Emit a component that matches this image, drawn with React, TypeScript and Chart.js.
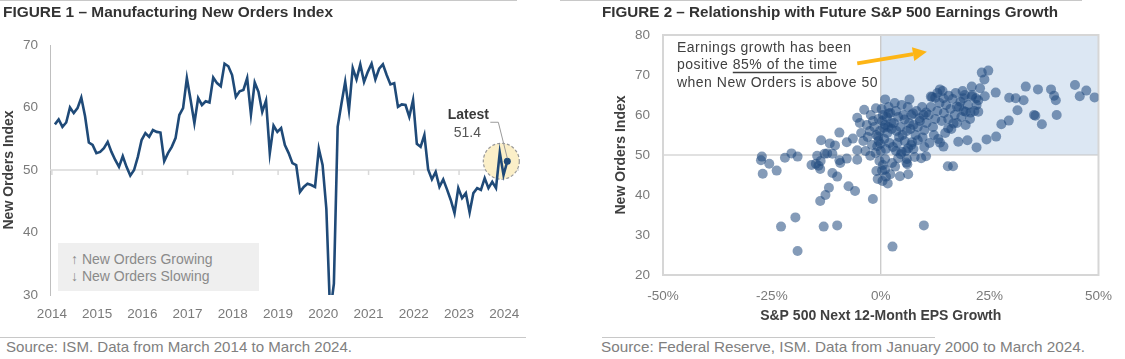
import React, { useEffect, useLayoutEffect, useRef } from 'react';
import { Chart, registerables } from 'chart.js';

Chart.register(...registerables);

const FONT = "'Liberation Sans', Arial, Helvetica, sans-serif";
const NARROW_FONT = "'Liberation Sans Narrow', 'Arial Narrow', 'Liberation Sans', Arial, sans-serif";

// ---------- Figure 1: ISM Manufacturing New Orders, monthly, Mar 2014 – Mar 2024 ----------
const newOrdersIndex: number[] = [
  57.3, 58.1, 56.9, 57.6, 60.0, 59.1, 59.9, 61.6, 58.6, 54.4,
  54.0, 52.7, 52.9, 53.5, 54.5, 52.9, 51.6, 50.5, 52.2, 50.5,
  49.1, 50.0, 52.1, 54.8, 55.9, 55.3, 56.4, 56.1, 56.0, 51.4,
  52.7, 53.7, 55.1, 58.8, 59.9, 64.7, 61.2, 57.5, 61.5, 60.4,
  61.0, 60.8, 64.8, 63.9, 63.4, 67.0, 66.6, 65.2, 61.7, 62.6,
  62.8, 64.7, 58.9, 64.0, 62.5, 59.3, 61.1, 52.7, 57.1, 56.1,
  56.7, 54.0, 52.7, 51.1, 50.8, 46.5, 47.3, 47.8, 47.6, 47.3,
  53.4, 50.8, 43.8, 27.1, 31.8, 56.9, 60.6, 64.1, 59.6, 66.3,
  64.5, 66.9, 64.1, 65.7, 67.0, 64.5, 66.2, 66.9, 65.2, 63.7,
  63.9, 60.1, 60.5, 60.4, 58.5, 61.2, 54.2, 53.7, 55.6, 50.1,
  48.5, 49.7, 47.3, 48.5, 46.9, 45.2, 43.1, 47.1, 45.5, 46.3,
  43.2, 46.3, 47.1, 46.8, 48.7, 47.1, 48.1, 47.1, 52.8, 49.2, 51.4,
];
const yearLabels = ['2014', '2015', '2016', '2017', '2018', '2019', '2020', '2021', '2022', '2023', '2024'];
const latestLabel = 'Latest';
const legendLines = ['↑ New Orders Growing', '↓ New Orders Slowing'];

// ---------- Figure 2: New Orders level vs next-12-month S&P 500 EPS growth (%) ----------
const scatterPoints: [number, number][] = [
  // negative EPS growth
  [-27.5, 48.7], [-27.3, 49.6], [-25.6, 47.8], [-27.1, 45.3], [-23.9, 46.1], [-22.9, 32.1], [-22.0, 49.3],
  [-20.5, 50.4], [-19.6, 34.4], [-19.1, 49.6], [-19.1, 26.0], [-15.9, 47.5], [-14.9, 47.8], [-14.6, 49.8],
  [-14.3, 47.3], [-13.9, 46.5], [-13.7, 53.7], [-13.9, 38.5], [-13.1, 32.1], [-12.7, 40.0], [-12.9, 50.3],
  [-12.3, 50.4], [-11.9, 41.8], [-11.7, 52.9], [-11.1, 45.5], [-11.1, 50.3], [-10.5, 52.4], [-10.0, 44.6],
  [-10.0, 32.4], [-9.5, 55.6], [-9.5, 48.7], [-9.3, 48.0], [-7.8, 53.2], [-7.8, 49.1], [-7.4, 42.2],
  [-6.4, 54.1], [-5.9, 41.0], [-5.4, 59.3], [-5.4, 51.2], [-5.4, 48.8], [-13.8, 48.5],
  // positive EPS growth, sparse
  [23.2, 70.6], [24.7, 71.1], [23.8, 68.9], [20.9, 67.1], [22.8, 66.7], [19.3, 65.0], [19.0, 64.2],
  [20.9, 64.6], [21.9, 64.2], [22.4, 63.7], [23.9, 64.7], [26.4, 65.6], [29.5, 64.3], [31.0, 64.2],
  [32.8, 63.7], [33.3, 67.1], [36.1, 66.4], [39.1, 66.4], [39.8, 64.8], [40.2, 63.7], [44.6, 67.5],
  [45.7, 64.7], [47.2, 66.1], [49.1, 64.4], [31.4, 61.2], [29.4, 58.6], [27.7, 57.7], [26.5, 54.6],
  [24.3, 53.9], [22.0, 51.9], [19.9, 53.7], [17.8, 53.3], [35.2, 60.0], [35.5, 59.8], [37.0, 57.7],
  [40.4, 60.0], [15.4, 47.2], [16.6, 47.2], [9.9, 32.4], [2.7, 27.1], [1.6, 42.9], [-1.8, 39.0],
  [4.4, 44.7], [6.3, 45.2], [6.1, 47.7], [3.3, 47.1], [1.0, 46.4], [0.3, 46.1], [1.2, 44.6],
  [-2.4, 49.8], [-1.1, 61.7], [1.0, 63.9], [6.6, 63.9], [11.5, 64.6], [13.6, 66.4], [12.5, 64.3],
  [14.4, 64.2], [10.4, 60.6], [8.9, 59.2], [10.0, 56.2], [7.4, 60.4], [5.5, 58.9], [17.5, 62.1],
  [18.3, 63.3], [19.5, 60.8], [20.6, 60.6], [22.4, 60.8], [16.7, 57.9], [15.5, 56.7], [14.4, 52.1],
  [13.6, 53.1], [9.6, 54.4], [8.5, 53.7], [7.0, 52.5], [6.3, 51.7], [4.8, 50.8], [10.4, 49.7],
  [9.3, 49.2], [5.9, 48.1], [4.0, 49.2], [1.8, 60.4],
  // dense cluster near 0–9%
  [-1.5, 57.0], [-1.0, 55.0], [-0.5, 53.5], [-0.8, 52.2], [-0.2, 56.0], [0.3, 58.5], [0.5, 60.0],
  [1.0, 57.5], [1.5, 55.5], [0.8, 54.0], [2.0, 53.0], [2.5, 56.5], [3.0, 58.0], [2.2, 60.5],
  [3.5, 61.0], [4.0, 59.5], [4.5, 57.0], [5.0, 55.0], [5.5, 53.5], [6.0, 56.0], [6.5, 58.0],
  [7.0, 60.0], [7.5, 57.5], [6.2, 62.0], [4.8, 62.5], [3.2, 63.0], [1.8, 62.0], [0.2, 61.5],
  [-0.5, 59.0], [-1.8, 58.5], [-2.5, 56.0], [-3.0, 54.5], [-1.2, 50.5], [0.0, 51.0], [1.2, 51.5],
  [2.8, 52.0], [3.8, 53.0], [4.2, 54.5], [5.8, 51.0], [7.2, 53.2], [8.0, 55.0], [8.5, 57.0],
  [9.0, 58.5], [8.2, 61.0], [9.5, 62.0], [2.4, 58.0], [3.6, 56.0], [1.4, 59.5], [5.2, 60.0],
  [6.8, 56.5], [-0.3, 48.5], [1.0, 49.0], [2.6, 48.0], [0.5, 47.5], [-1.0, 46.0], [-0.7, 44.0],
  [0.4, 43.5], [2.2, 45.2], [3.5, 51.0], [4.6, 50.2], [6.0, 49.0], [7.5, 51.5], [7.8, 49.5],
  [-2.0, 52.5], [-3.5, 51.0], [-4.0, 53.5], [-4.5, 55.5], [-3.2, 57.5], [-2.3, 60.0], [-4.8, 58.0],
  [-3.8, 61.3], [-0.6, 54.6], [0.6, 56.8], [1.7, 57.0], [-0.1, 52.8],
  // dense cluster near 10–22%
  [10.5, 58.0], [11.0, 60.0], [11.5, 62.0], [12.0, 57.0], [12.5, 59.0], [13.0, 61.0], [13.5, 63.0],
  [14.0, 58.5], [14.5, 60.5], [15.0, 62.5], [15.5, 59.0], [16.0, 61.5], [16.5, 64.0], [17.0, 60.0],
  [17.5, 58.0], [18.0, 62.0], [18.5, 59.5], [19.0, 61.0], [12.2, 55.0], [13.2, 54.0], [14.8, 55.5],
  [11.2, 53.0], [10.0, 52.0], [9.8, 60.0], [11.8, 64.5], [13.0, 65.5], [14.2, 66.0], [15.6, 64.8],
  [17.2, 65.5], [18.8, 66.0], [20.0, 62.5], [21.0, 65.0], [22.0, 62.5], [21.5, 61.0], [16.2, 56.5],
  [19.5, 57.5], [20.5, 59.0],
];
const noteLines = ['Earnings growth has been', 'positive ', '85% of the time', 'when New Orders is above 50'];
// annotation anchor & arrow (in chart units: EPS %, index level)
const noteAnchor = { x: -46.8, y: 76.75 };
const arrowFrom = { x: -5.4, y: 72.9 };
const arrowTo = { x: 10.6, y: 75.8 };

const TICK_COLOR = '#7a7a7a';
const AXIS_TITLE_COLOR = '#404040';

function FitText(props: { text: string; left: number; top: number; width: number; style: React.CSSProperties }) {
  const ref = useRef<HTMLSpanElement>(null);
  useLayoutEffect(() => {
    const el = ref.current;
    if (!el) return;
    el.style.transform = 'none';
    const w = el.getBoundingClientRect().width;
    if (w > 0) el.style.transform = `scaleX(${props.width / w})`;
  }, [props.text, props.width]);
  return (
    <span
      ref={ref}
      style={{
        position: 'absolute', left: props.left, top: props.top, whiteSpace: 'nowrap',
        transformOrigin: '0 0', display: 'inline-block', ...props.style,
      }}
    >
      {props.text}
    </span>
  );
}

function LineChart() {
  const ref = useRef<HTMLCanvasElement>(null);
  useEffect(() => {
    const canvas = ref.current!;
    const last = newOrdersIndex.length - 1;
    const decor = {
      id: 'fig1Decor',
      beforeDatasetsDraw(chart: any) {
        const { ctx, chartArea, scales } = chart;
        const xs = scales.x, ys = scales.y;
        const y50 = ys.getPixelForValue(50);
        ctx.save();
        ctx.strokeStyle = '#d9d9d9';
        ctx.lineWidth = 1.5;
        ctx.beginPath();
        ctx.moveTo(chartArea.left, y50);
        ctx.lineTo(chartArea.right, y50);
        ctx.stroke();
        xs.ticks.forEach((t: any) => {
          const px = xs.getPixelForValue(t.value);
          ctx.beginPath();
          ctx.moveTo(px, y50);
          ctx.lineTo(px, y50 + 5);
          ctx.stroke();
        });
        const px = xs.getPixelForValue(last);
        const py = ys.getPixelForValue(newOrdersIndex[last]);
        ctx.beginPath();
        ctx.arc(px - 6, py, 18, 0, Math.PI * 2);
        ctx.fillStyle = '#FBEFC8';
        ctx.fill();
        ctx.setLineDash([3, 2]);
        ctx.strokeStyle = '#9a9a9a';
        ctx.lineWidth = 1.2;
        ctx.stroke();
        ctx.restore();
      },
      afterDatasetsDraw(chart: any) {
        const { ctx, scales } = chart;
        const px = scales.x.getPixelForValue(last);
        const py = scales.y.getPixelForValue(newOrdersIndex[last]);
        ctx.save();
        ctx.strokeStyle = '#9a9a9a';
        ctx.lineWidth = 1;
        ctx.beginPath();
        ctx.moveTo(px - 17, py - 39);
        ctx.lineTo(px - 9, py - 39);
        ctx.lineTo(px, py - 3);
        ctx.stroke();
        ctx.textAlign = 'center';
        ctx.textBaseline = 'middle';
        ctx.fillStyle = '#3a3a3a';
        ctx.font = `bold 14px ${FONT}`;
        ctx.fillText(latestLabel, px - 39, py - 46);
        ctx.fillStyle = '#555555';
        ctx.font = `14px ${FONT}`;
        ctx.fillText(newOrdersIndex[last].toFixed(1), px - 40, py - 28);
        ctx.restore();
      },
    };
    const chart = new Chart(canvas, {
      type: 'line',
      data: {
        datasets: [
          {
            data: newOrdersIndex.map((v, i) => ({ x: i, y: v })),
            borderColor: '#1F4A78',
            backgroundColor: '#1F4A78',
            borderWidth: 2.6,
            tension: 0,
            pointRadius: newOrdersIndex.map((_, i) => (i === last ? 3.5 : 0)),
            pointBackgroundColor: '#1F4A78',
            pointBorderWidth: 0,
          },
        ],
      },
      options: {
        animation: false,
        responsive: false,
        devicePixelRatio: 1,
        events: [],
        layout: { padding: { top: 45, right: 26, left: 0, bottom: 0 } },
        plugins: { legend: { display: false }, tooltip: { enabled: false } },
        scales: {
          x: {
            type: 'linear',
            min: -1.3,
            max: 123.1,
            grid: { display: false, drawTicks: false },
            border: { display: false },
            afterBuildTicks: (s: any) => {
              s.ticks = yearLabels.map((_, i) => ({ value: i * 12 - 0.8 }));
            },
            afterFit: (s: any) => {
              s.height = 35;
            },
            ticks: {
              autoSkip: false,
              maxRotation: 0,
              padding: 11,
              color: TICK_COLOR,
              font: { family: FONT, size: 13.5 },
              callback: (_v: any, i: number) => yearLabels[i],
            },
          },
          y: {
            min: 30,
            max: 70,
            grid: { display: false, drawTicks: false },
            border: { display: true, color: '#bfbfbf', width: 1 },
            afterFit: (s: any) => {
              s.width = 50;
            },
            ticks: { stepSize: 10, padding: 12, color: TICK_COLOR, font: { family: FONT, size: 13.5 } },
            title: {
              display: true,
              text: 'New Orders Index',
              color: AXIS_TITLE_COLOR,
              font: { family: FONT, size: 14, weight: 'bold' },
              padding: { top: 1, bottom: 0 },
            },
          },
        },
      },
      plugins: [decor],
    } as any);
    return () => chart.destroy();
  }, []);
  return (
    <canvas ref={ref} width={545} height={330} style={{ position: 'absolute', left: 0, top: 0, width: 545, height: 330 }} />
  );
}

function ScatterChart() {
  const ref = useRef<HTMLCanvasElement>(null);
  useEffect(() => {
    const canvas = ref.current!;
    const decor = {
      id: 'fig2Decor',
      beforeDatasetsDraw(chart: any) {
        const { ctx, chartArea, scales } = chart;
        const xs = scales.x, ys = scales.y;
        const x0 = xs.getPixelForValue(0);
        const y50 = ys.getPixelForValue(50);
        ctx.save();
        ctx.fillStyle = '#DCE7F3';
        ctx.fillRect(x0, chartArea.top, chartArea.right - x0, y50 - chartArea.top);
        ctx.strokeStyle = '#c4c4c4';
        ctx.lineWidth = 1.2;
        ctx.beginPath();
        ctx.moveTo(x0, chartArea.top);
        ctx.lineTo(x0, chartArea.bottom);
        ctx.moveTo(chartArea.left, y50);
        ctx.lineTo(chartArea.right, y50);
        ctx.stroke();
        ctx.strokeStyle = '#d6d6d6';
        ctx.lineWidth = 2;
        ctx.strokeRect(chartArea.left, chartArea.top, chartArea.right - chartArea.left, chartArea.bottom - chartArea.top);
        ctx.restore();
      },
      afterDatasetsDraw(chart: any) {
        const { ctx, scales } = chart;
        const xs = scales.x, ys = scales.y;
        ctx.save();
        // arrow
        const ax = xs.getPixelForValue(arrowFrom.x), ay = ys.getPixelForValue(arrowFrom.y);
        const bx = xs.getPixelForValue(arrowTo.x), by = ys.getPixelForValue(arrowTo.y);
        const ang = Math.atan2(by - ay, bx - ax);
        const headLen = 14, headHalf = 7;
        const hx = bx - headLen * Math.cos(ang), hy = by - headLen * Math.sin(ang);
        ctx.strokeStyle = '#FDB515';
        ctx.fillStyle = '#FDB515';
        ctx.lineWidth = 4;
        ctx.beginPath();
        ctx.moveTo(ax, ay);
        ctx.lineTo(hx, hy);
        ctx.stroke();
        ctx.beginPath();
        ctx.moveTo(bx, by);
        ctx.lineTo(hx + headHalf * Math.sin(ang), hy - headHalf * Math.cos(ang));
        ctx.lineTo(hx - headHalf * Math.sin(ang), hy + headHalf * Math.cos(ang));
        ctx.closePath();
        ctx.fill();
        // note
        const nx = xs.getPixelForValue(noteAnchor.x);
        const ny = ys.getPixelForValue(noteAnchor.y);
        ctx.font = `14px ${FONT}`;
        (ctx as any).letterSpacing = '0.5px';
        ctx.fillStyle = '#404040';
        ctx.textAlign = 'left';
        ctx.textBaseline = 'middle';
        const lh = 17.5;
        ctx.fillText(noteLines[0], nx, ny);
        ctx.fillText(noteLines[1], nx, ny + lh);
        const w1 = ctx.measureText(noteLines[1]).width;
        ctx.fillText(noteLines[2], nx + w1, ny + lh);
        const w2 = ctx.measureText(noteLines[2]).width;
        ctx.strokeStyle = '#404040';
        ctx.lineWidth = 1.4;
        ctx.beginPath();
        ctx.moveTo(nx + w1, ny + lh + 7);
        ctx.lineTo(nx + w1 + w2 - 1, ny + lh + 7);
        ctx.stroke();
        ctx.fillText(noteLines[3], nx, ny + 2 * lh);
        ctx.restore();
      },
    };
    const chart = new Chart(canvas, {
      type: 'scatter',
      data: {
        datasets: [
          {
            data: scatterPoints.map(([x, y]) => ({ x, y })),
            pointRadius: 5,
            pointBackgroundColor: 'rgba(31,73,125,0.55)',
            pointBorderWidth: 0,
          },
        ],
      },
      options: {
        animation: false,
        responsive: false,
        devicePixelRatio: 1,
        events: [],
        layout: { padding: { top: 35, right: 17, left: 0, bottom: 0 } },
        plugins: { legend: { display: false }, tooltip: { enabled: false } },
        scales: {
          x: {
            type: 'linear',
            min: -50,
            max: 50,
            grid: { display: false, drawTicks: false },
            border: { display: false },
            afterFit: (s: any) => {
              s.height = 55;
            },
            ticks: {
              stepSize: 25,
              padding: 13,
              color: TICK_COLOR,
              font: { family: FONT, size: 13.5 },
              callback: (v: any) => `${v}%`,
            },
            title: {
              display: true,
              text: 'S&P 500 Next 12-Month EPS Growth',
              color: AXIS_TITLE_COLOR,
              font: { family: FONT, size: 14, weight: 'bold' },
              padding: { top: 0, bottom: 5 },
            },
          },
          y: {
            min: 20,
            max: 80,
            grid: { display: false, drawTicks: false },
            border: { display: false },
            afterFit: (s: any) => {
              s.width = 103;
            },
            ticks: { stepSize: 10, padding: 13, color: TICK_COLOR, font: { family: FONT, size: 13.5 } },
            title: {
              display: true,
              text: 'New Orders Index',
              color: AXIS_TITLE_COLOR,
              font: { family: FONT, size: 14, weight: 'bold' },
              padding: { top: 53, bottom: 0 },
            },
          },
        },
      },
      plugins: [decor],
    } as any);
    return () => chart.destroy();
  }, []);
  return (
    <canvas ref={ref} width={565} height={330} style={{ position: 'absolute', left: 560, top: 0, width: 565, height: 330 }} />
  );
}

export default function App() {
  const titleStyle: React.CSSProperties = { fontFamily: FONT, fontWeight: 'bold', fontSize: 14, color: '#333', lineHeight: '16px' };
  const sourceStyle: React.CSSProperties = { fontFamily: NARROW_FONT, fontSize: 14.5, color: '#808080', lineHeight: '16px' };
  const rule = (left: number, top: number, width: number): React.CSSProperties => ({
    position: 'absolute', left, top, width, height: 1, background: '#c8c8c8',
  });
  return (
    <div style={{ position: 'absolute', left: 0, top: 0, width: 1125, height: 359, background: '#fff', overflow: 'hidden' }}>
      <LineChart />
      <ScatterChart />
      <div style={rule(0, 0, 517)} />
      <div style={rule(560, 0, 522)} />
      <FitText text="FIGURE 1 – Manufacturing New Orders Index" left={3} top={4} width={330} style={titleStyle} />
      <FitText text="FIGURE 2 – Relationship with Future S&P 500 Earnings Growth" left={602} top={4} width={456} style={titleStyle} />
      <div
        style={{
          position: 'absolute', left: 58, top: 243, width: 201, height: 48, background: '#efefef',
          fontFamily: FONT, fontSize: 14, color: '#8a8a8a', lineHeight: '17px', boxSizing: 'border-box',
          padding: '8px 0 0 13px', whiteSpace: 'nowrap',
        }}
      >
        {legendLines.map((l) => (
          <div key={l}>{l}</div>
        ))}
      </div>
      <div style={rule(0, 337, 526)} />
      <div style={rule(602, 337, 333)} />
      <FitText text="Source: ISM. Data from March 2014 to March 2024." left={6} top={339} width={346} style={sourceStyle} />
      <FitText text="Source: Federal Reserve, ISM. Data from January 2000 to March 2024." left={601} top={339} width={484} style={sourceStyle} />
    </div>
  );
}
